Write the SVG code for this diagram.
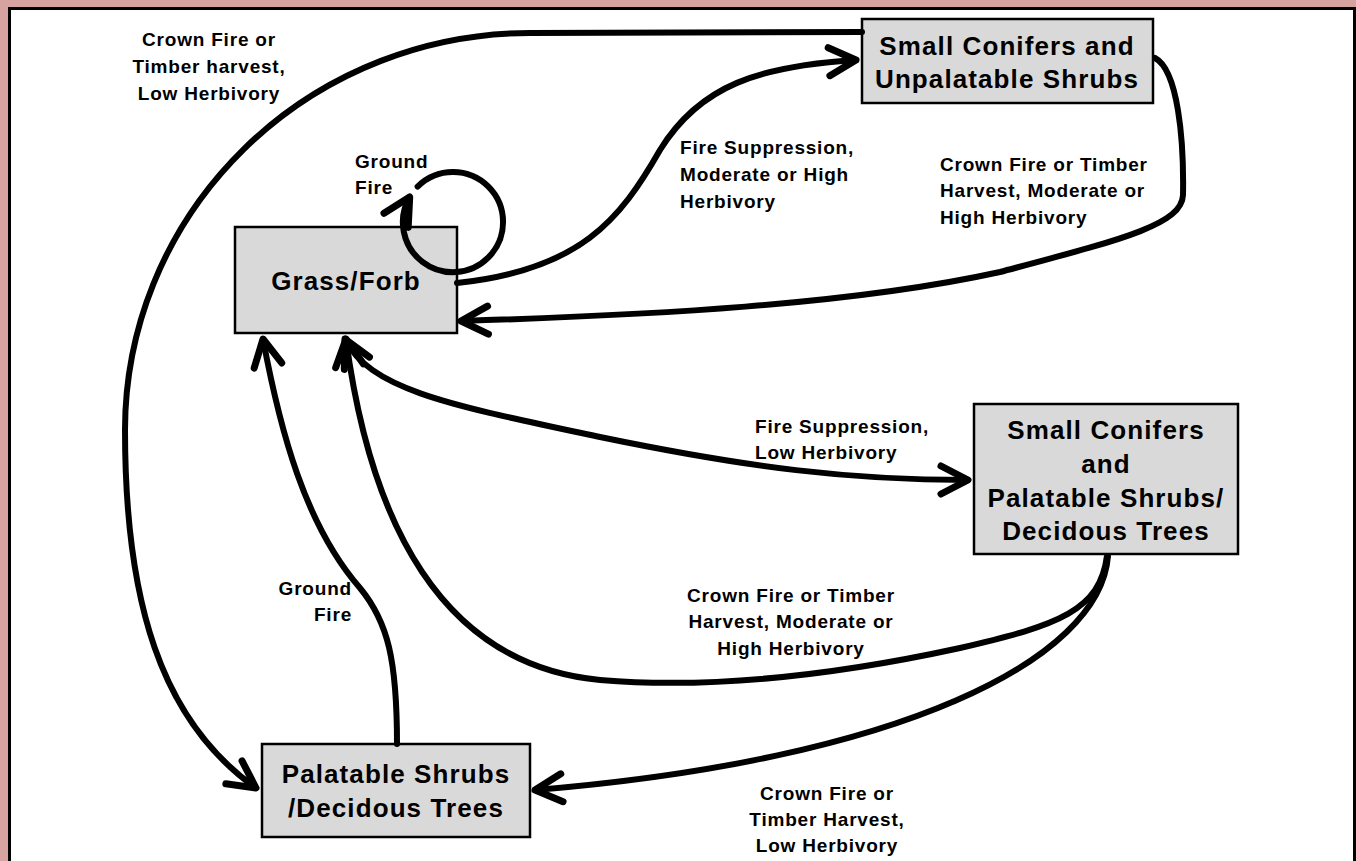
<svg xmlns="http://www.w3.org/2000/svg" width="1356" height="861" viewBox="0 0 1356 861">
<defs>
<style>
.node rect{fill:#d9d9d9;stroke:#000;stroke-width:2.5}
.nt{font-family:"Liberation Sans",Arial,sans-serif;font-weight:bold;font-size:26px;letter-spacing:1.1px;text-anchor:middle;fill:#000}
.lb{font-family:"Liberation Sans",Arial,sans-serif;font-weight:bold;font-size:19px;letter-spacing:0.8px;fill:#000}
.c{fill:none;stroke:#000;stroke-width:6;stroke-linecap:round;stroke-linejoin:round}
</style>
<marker id="arr" viewBox="-40 -20 45 40" markerUnits="userSpaceOnUse" markerWidth="45" markerHeight="40" refX="0" refY="0" orient="auto-start-reverse" overflow="visible">
<path d="M -27 -14 L 0 0 L -27 14" fill="none" stroke="#000" stroke-width="7" stroke-linecap="round" stroke-linejoin="round"/>
</marker>
</defs>
<rect x="0" y="0" width="1356" height="861" fill="#d6a3a1"/>
<rect x="9.5" y="8.5" width="1345" height="870" fill="#fff" stroke="#000" stroke-width="3"/>

<g id="grass-forb" class="node">
<rect x="235" y="227" width="222" height="106"/>
<text class="nt" x="346" y="290">Grass/Forb</text>
</g>
<g id="small-conifers-unpalatable" class="node">
<rect x="862" y="19" width="291" height="84"/>
<text class="nt"><tspan x="1007" y="55">Small Conifers and</tspan><tspan x="1007" y="88">Unpalatable Shrubs</tspan></text>
</g>
<g id="small-conifers-palatable" class="node">
<rect x="974" y="404" width="264" height="150"/>
<text class="nt"><tspan x="1106" y="439">Small Conifers</tspan><tspan x="1106" y="473">and</tspan><tspan x="1106" y="507">Palatable Shrubs/</tspan><tspan x="1106" y="540">Decidous Trees</tspan></text>
</g>
<g id="palatable-shrubs" class="node">
<rect x="262" y="744" width="268" height="93"/>
<text class="nt"><tspan x="396" y="783">Palatable Shrubs</tspan><tspan x="396" y="817">/Decidous Trees</tspan></text>
</g>

<g id="connectors">
<path class="c" d="M 862 32 L 530 33 A 405 397 0 0 0 125 430 C 125 600 160 720 256 788" marker-end="url(#arr)"/>
<path class="c" d="M 457 283 C 580 270 620 220 660 150 C 700 85 760 66 856 60" marker-end="url(#arr)"/>
<path class="c" d="M 1155 58 C 1178 70 1184 140 1183 195 C 1182 225 1120 240 1000 272 C 850 305 650 315 461 321" marker-end="url(#arr)"/>
<path class="c" d="M 417.6 186.6 A 50 50 0 0 1 488.4 257.4 A 50 50 0 0 1 409.7 197" marker-end="url(#arr)"/>
<path class="c" d="M 345 339 C 370 390 450 405 600 437 C 750 468 850 480 968 480" marker-start="url(#arr)" marker-end="url(#arr)"/>
<path class="c" d="M 1107 556 C 1100 610 1060 625 960 648 C 850 672 720 690 600 680 C 440 665 370 520 346 339" marker-end="url(#arr)"/>
<path class="c" d="M 1108 556 C 1100 660 900 760 535 790" marker-end="url(#arr)"/>
<path class="c" d="M 397 744 C 397 660 388 622 360 588 C 305 525 280 430 263 339" marker-end="url(#arr)"/>
</g>

<g id="labels">
<text class="lb" text-anchor="middle"><tspan x="209" y="46">Crown Fire or</tspan><tspan x="209" y="73">Timber harvest,</tspan><tspan x="209" y="100">Low Herbivory</tspan></text>
<text class="lb"><tspan x="355" y="168">Ground</tspan><tspan x="355" y="194">Fire</tspan></text>
<text class="lb"><tspan x="680" y="154">Fire Suppression,</tspan><tspan x="680" y="181">Moderate or High</tspan><tspan x="680" y="208">Herbivory</tspan></text>
<text class="lb"><tspan x="940" y="171">Crown Fire or Timber</tspan><tspan x="940" y="197">Harvest, Moderate or</tspan><tspan x="940" y="224">High Herbivory</tspan></text>
<text class="lb"><tspan x="755" y="433">Fire Suppression,</tspan><tspan x="755" y="459">Low Herbivory</tspan></text>
<text class="lb" text-anchor="middle"><tspan x="791" y="602">Crown Fire or Timber</tspan><tspan x="791" y="628">Harvest, Moderate or</tspan><tspan x="791" y="655">High Herbivory</tspan></text>
<text class="lb" text-anchor="end"><tspan x="352" y="595">Ground</tspan><tspan x="352" y="621">Fire</tspan></text>
<text class="lb" text-anchor="middle"><tspan x="827" y="800">Crown Fire or</tspan><tspan x="827" y="826">Timber Harvest,</tspan><tspan x="827" y="852">Low Herbivory</tspan></text>
</g>
</svg>
